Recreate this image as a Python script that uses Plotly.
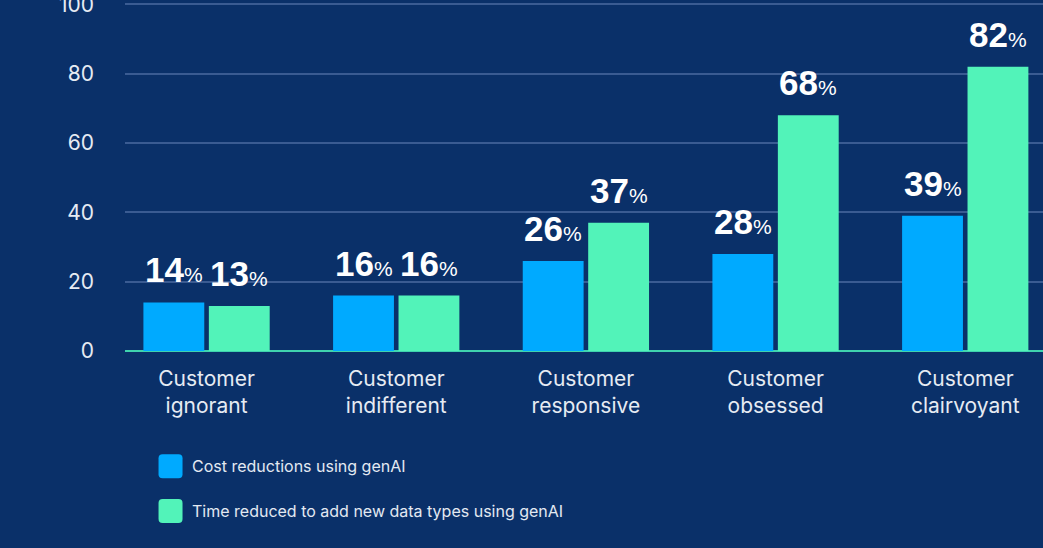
import plotly.graph_objects as go

categories = ["Customer<br>ignorant", "Customer<br>indifferent", "Customer<br>responsive",
              "Customer<br>obsessed", "Customer<br>clairvoyant"]
series_names = ["Cost reductions using genAI", "Time reduced to add new data types using genAI"]
cost_reduction = [14, 16, 26, 28, 39]
time_reduced = [13, 16, 37, 68, 82]
y_ticks = [0, 20, 40, 60, 80, 100]

BG = "#0a3069"
BLUE = "#00aaff"
GREEN = "#52f3b9"
colors = [BLUE, GREEN]
series = [cost_reduction, time_reduced]

BARGAP = 0.31
BARGROUPGAP = 0.07

fig = go.Figure()
for name, vals, col in zip(series_names, series, colors):
    fig.add_trace(go.Bar(x=list(range(len(categories))), y=vals, name=name,
                         marker=dict(color=col, line=dict(width=0)),
                         showlegend=False, hoverinfo="skip"))

# value labels above each bar
offset = (1 - BARGAP) / 4
annotations = []
for s_idx, vals in enumerate(series):
    for i, v in enumerate(vals):
        annotations.append(dict(
            x=i + (-offset if s_idx == 0 else offset), y=v, xref="x", yref="y",
            text=f"<b>{v}</b><span style='font-size:21px'>%</span>",
            showarrow=False, yanchor="bottom", xanchor="center", yshift=11,
            font=dict(family="Liberation Sans, Arial, sans-serif", size=35, color="#ffffff")))

# custom legend (rounded swatches + text)
sw = "M -8,-12 L 8,-12 Q 12,-12 12,-8 L 12,8 Q 12,12 8,12 L -8,12 Q -12,12 -12,8 L -12,-8 Q -12,-12 -8,-12 Z"
shapes = []
legend_y = [-0.331, -0.460]
for name, col, ly in zip(series_names, colors, legend_y):
    shapes.append(dict(type="path", xref="paper", yref="paper", xsizemode="pixel", ysizemode="pixel",
                       xanchor=0.0496, yanchor=ly, path=sw, fillcolor=col, line=dict(width=0)))
    annotations.append(dict(x=0.071, y=ly, xref="paper", yref="paper", text=name, showarrow=False,
                            xanchor="left", yanchor="middle",
                            font=dict(family="Inter, sans-serif", size=16, color="#e3e9f2")))

fig.update_layout(
    width=1043, height=548,
    margin=dict(l=125, r=0, t=3, b=197, autoexpand=False),
    paper_bgcolor=BG, plot_bgcolor=BG,
    barmode="group", bargap=BARGAP, bargroupgap=BARGROUPGAP,
    font=dict(family="Inter, sans-serif", color="#e6ebf3"),
    annotations=annotations, shapes=shapes,
)
fig.update_xaxes(
    range=[-0.43, 4.41], tickmode="array", tickvals=list(range(len(categories))),
    ticktext=categories, tickfont=dict(size=21, color="#e6ebf3"),
    showgrid=False, zeroline=False, showline=False, ticks="", ticklabelstandoff=13,
    automargin=False,
)
fig.update_yaxes(
    range=[0, 100.4], tickvals=y_ticks, tickfont=dict(size=21, color="#e6ebf3"),
    showgrid=True, gridcolor="#3a5b92", gridwidth=1.5,
    zeroline=True, zerolinecolor="#3fd3ae", zerolinewidth=2,
    showline=False, ticks="", ticklabelstandoff=30, ticklabeloverflow="allow",
    automargin=False,
)

fig.write_html("out.html")
